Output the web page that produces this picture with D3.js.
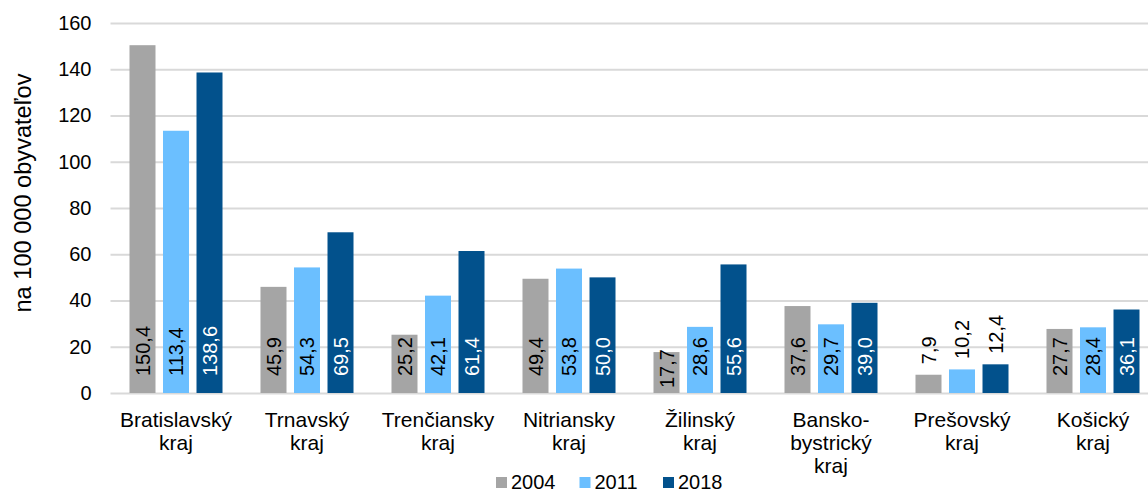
<!DOCTYPE html>
<html>
<head>
<meta charset="utf-8">
<script src="https://cdn.jsdelivr.net/npm/d3@7"></script>
<style>
  html, body { margin: 0; padding: 0; background: #fff; }
  svg { display: block; font-family: "Liberation Sans", Arial, sans-serif; }
</style>
</head>
<body>
<svg id="chart" width="1148" height="492"></svg>
<script>
const categories = ["Bratislavský\nkraj", "Trnavský\nkraj", "Trenčiansky\nkraj", "Nitriansky\nkraj",
  "Žilinský\nkraj", "Bansko-\nbystrický\nkraj", "Prešovský\nkraj", "Košický\nkraj"];
const seriesNames = ["2004", "2011", "2018"];
const values2004 = [150.4, 45.9, 25.2, 49.4, 17.7, 37.6, 7.9, 27.7];
const values2011 = [113.4, 54.3, 42.1, 53.8, 28.6, 29.7, 10.2, 28.4];
const values2018 = [138.6, 69.5, 61.4, 50.0, 55.6, 39.0, 12.4, 36.1];
const yTicks = [0, 20, 40, 60, 80, 100, 120, 140, 160];
const yTitle = "na 100 000 obyvateľov";

const seriesValues = [values2004, values2011, values2018];
const colors = ["#A5A5A5", "#6BBFFF", "#02518C"];
const labelColors = ["#000", "#000", "#fff"];

const svg = d3.select("#chart");
const plotLeft = 110.5, plotRight = 1158.5, plotTop = 23, plotBottom = 393;

const y = d3.scaleLinear().domain([0, 160]).range([plotBottom, plotTop]);
const x0 = d3.scaleBand().domain(categories).range([plotLeft, plotRight]).paddingInner(0).paddingOuter(0);
const x1 = d3.scaleBand().domain(seriesNames).range([0, x0.bandwidth()]).paddingInner(0.224).paddingOuter(0.567);

// grid + y axis
const yAxis = d3.axisLeft(y).tickValues(yTicks).tickSize(-(plotRight - plotLeft)).tickPadding(19);
const gy = svg.append("g").attr("transform", `translate(${plotLeft},0)`).call(yAxis);
gy.select(".domain").remove();
gy.selectAll(".tick line").attr("stroke", "#D9D9D9").attr("stroke-width", 2);
gy.selectAll(".tick text").attr("font-size", 20).attr("fill", "#000")
  .attr("font-family", "Liberation Sans, Arial, sans-serif");

// y title
svg.append("text")
  .attr("transform", `translate(31,193) rotate(-90)`)
  .attr("text-anchor", "middle")
  .attr("font-size", 23.6)
  .attr("fill", "#000")
  .text(yTitle);

// bars
const data = [];
categories.forEach((c, i) => {
  seriesNames.forEach((s, j) => {
    data.push({ cat: c, ser: s, j: j, v: seriesValues[j][i] });
  });
});

svg.append("g").selectAll("rect").data(data).join("rect")
  .attr("x", d => x0(d.cat) + x1(d.ser))
  .attr("width", x1.bandwidth())
  .attr("y", d => y(d.v))
  .attr("height", d => y(0) - y(d.v))
  .attr("fill", d => colors[d.j]);

// value labels
const fmt = v => d3.format(".1f")(v).replace(".", ",");
const labelG = svg.append("g");
data.forEach(d => {
  const cx = x0(d.cat) + x1(d.ser) + x1.bandwidth() / 2;
  const t = labelG.append("text")
    .attr("font-size", 20)
    .attr("text-anchor", "start")
    .attr("dy", "0.36em")
    .text(fmt(d.v));
  const len = t.node().getComputedTextLength();
  const barH = y(0) - y(d.v);
  let startY, color;
  if (barH < len * 0.8) {
    startY = y(d.v) - 10.5;
    color = "#000";
  } else {
    const off = Math.max(5, Math.min(17, barH - len));
    startY = y(0) - off;
    color = labelColors[d.j];
  }
  t.attr("transform", `translate(${cx},${startY}) rotate(-90)`).attr("fill", color);
});

// x axis labels
const gx = svg.append("g").attr("transform", `translate(0,${plotBottom})`)
  .call(d3.axisBottom(x0).tickSize(0).tickFormat(""));
gx.select(".domain").remove();
gx.selectAll(".tick").each(function(d) {
  const lines = d.split("\n");
  const t = d3.select(this).append("text")
    .attr("text-anchor", "middle")
    .attr("font-size", 21)
    .attr("fill", "#000");
  lines.forEach((ln, k) => {
    t.append("tspan").attr("x", 0).attr("y", 34 + k * 22.8).text(ln);
  });
});

// legend
const legendX = [496, 579.5, 663];
const lg = svg.append("g");
seriesNames.forEach((s, j) => {
  lg.append("rect").attr("x", legendX[j]).attr("y", 477).attr("width", 11).attr("height", 11).attr("fill", colors[j]);
  lg.append("text").attr("x", legendX[j] + 15).attr("y", 489).attr("font-size", 20).attr("fill", "#000").text(s);
});
</script>
</body>
</html>
